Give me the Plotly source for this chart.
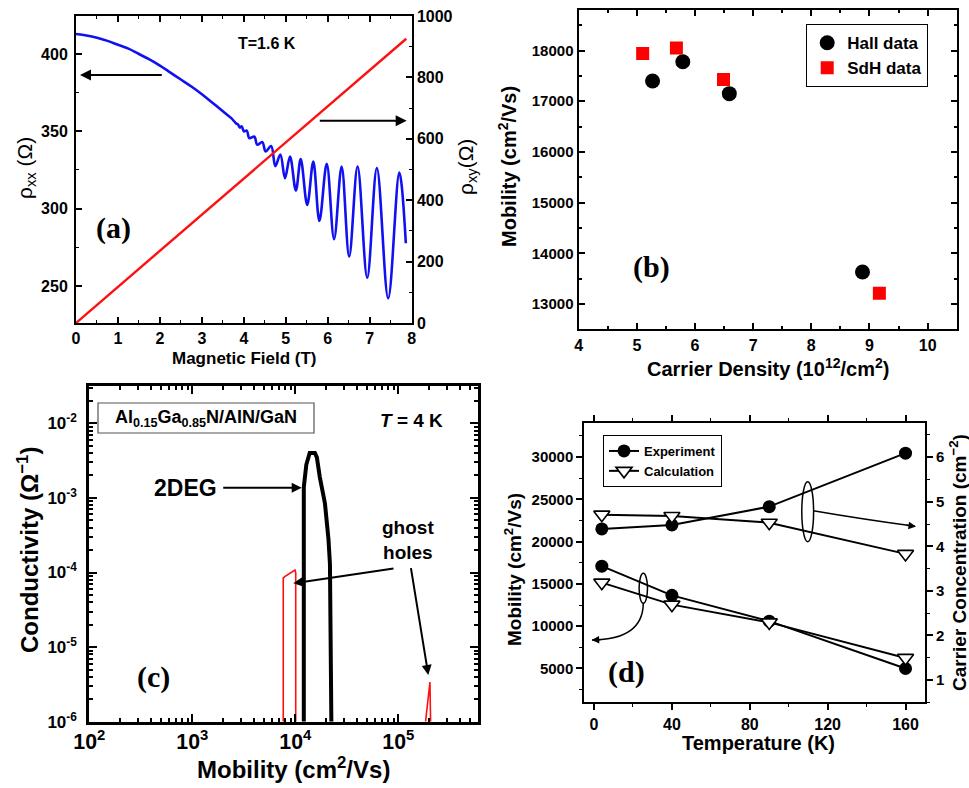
import plotly.graph_objects as go

W, H = 969, 788

# ---------------- data ----------------
# (a) magnetoresistance at T=1.6 K
field_xx = [0, 0.25, 0.5, 0.75, 1.0, 1.25, 1.5, 1.75, 2.0, 2.25, 2.5, 2.75, 3.0, 3.25, 3.5, 3.7,
            3.82, 3.86, 3.90, 3.95, 4.00, 4.07, 4.13, 4.25, 4.32, 4.44, 4.52, 4.65, 4.75, 4.87,
            4.98, 5.10, 5.24, 5.355, 5.51, 5.655, 5.80, 5.975, 6.15, 6.33, 6.51, 6.71, 6.94,
            7.17, 7.44, 7.705, 7.86]
rho_xx = [413, 412, 410.5, 408.5, 406, 403.5, 400, 396.5, 392.5, 388, 383.5, 379, 374, 368.5, 363, 358.5,
          355, 354.5, 352.5, 353.2, 350.0, 350.5, 345.6, 346.5, 341.3, 343, 336.9, 340.5, 327.5, 335,
          319.7, 333.7, 311.7, 332, 302.4, 330.4, 292, 329, 280.2, 327.2, 269, 327.2, 255.3,
          326.2, 242, 323.3, 277.6]
field_xy = [0, 1, 2, 3, 4, 5, 6, 7, 7.87]
rho_xy = [0, 118, 236, 354, 472, 590, 708, 826, 926]

# (b) mobility vs carrier density
hall_n = [5.27, 5.79, 6.59, 8.88]
hall_mu = [17400, 17780, 17150, 13630]
sdh_n = [5.10, 5.68, 6.49, 9.17]
sdh_mu = [17940, 18050, 17430, 13210]

# (c) mobility spectrum
deg_mu = [1.21e4, 1.21e4, 1.28e4, 1.38e4, 1.55e4, 1.62e4, 1.73e4, 1.94e4, 2.1e4, 2.17e4, 2.24e4]
deg_sigma = [1e-6, 1.4e-3, 2.8e-3, 4.0e-3, 4.0e-3, 3.5e-3, 1.9e-3, 8.5e-4, 2.8e-4, 1.3e-4, 1e-6]
hole1_mu = [7.64e3, 7.64e3, 7.9e3, 9.93e3, 1.01e4, 1.01e4]
hole1_sigma = [1e-6, 8.4e-5, 8.8e-5, 1.08e-4, 1.0e-4, 1e-6]
hole2_mu = [1.84e5, 2.03e5, 2.06e5]
hole2_sigma = [1e-6, 3.4e-6, 1e-6]
c_ytick_vals = [1e-6, 1e-5, 1e-4, 1e-3, 1e-2]
c_ytick_text = ["10<sup>-6</sup>", "10<sup>-5</sup>", "10<sup>-4</sup>", "10<sup>-3</sup>", "10<sup>-2</sup>"]

# (d) temperature dependence
temps = [4, 40, 90, 160]
mu_exp = [17100, 13650, 10600, 5000]
mu_calc = [15150, 12550, 10450, 6250]
n_exp = [4.39, 4.48, 4.89, 6.09]
n_calc = [4.71, 4.68, 4.53, 3.83]

# ---------------- helpers ----------------
FONT = "Liberation Sans"
SERIF = "Liberation Serif"


def PX(x):
    return x / W


def PY(y):
    return 1 - y / H


def bfont(size, color="black"):
    return dict(family=FONT, size=size, color=color, weight="bold")


fig = go.Figure()

# (a)
fig.add_trace(go.Scatter(x=field_xx, y=rho_xx, mode="lines", line=dict(color="#1010f0", width=2.6, shape="spline", smoothing=1.0),
                         xaxis="x", yaxis="y", showlegend=False))
fig.add_trace(go.Scatter(x=field_xy, y=rho_xy, mode="lines", line=dict(color="#ff1010", width=2.4),
                         xaxis="x", yaxis="y2", showlegend=False))
# (b)
fig.add_trace(go.Scatter(x=hall_n, y=hall_mu, mode="markers", name="Hall data",
                         marker=dict(symbol="circle", size=15, color="black"),
                         xaxis="x2", yaxis="y3", legend="legend"))
fig.add_trace(go.Scatter(x=sdh_n, y=sdh_mu, mode="markers", name="SdH data",
                         marker=dict(symbol="square", size=13, color="#ff0000"),
                         xaxis="x2", yaxis="y3", legend="legend"))
# (c)
fig.add_trace(go.Scatter(x=hole1_mu, y=hole1_sigma, mode="lines", line=dict(color="#ff1010", width=1.6),
                         xaxis="x3", yaxis="y4", showlegend=False))
fig.add_trace(go.Scatter(x=hole2_mu, y=hole2_sigma, mode="lines", line=dict(color="#ff1010", width=1.6),
                         xaxis="x3", yaxis="y4", showlegend=False))
fig.add_trace(go.Scatter(x=deg_mu, y=deg_sigma, mode="lines", line=dict(color="black", width=4),
                         xaxis="x3", yaxis="y4", showlegend=False))
# (d)
circ = dict(symbol="circle", size=13, color="black")
tri = dict(symbol="triangle-down", size=14, color="white", line=dict(color="black", width=1.6))
fig.add_trace(go.Scatter(x=temps, y=mu_exp, mode="lines+markers", name="Experiment", line=dict(color="black", width=2),
                         marker=circ, xaxis="x4", yaxis="y5", legend="legend2"))
fig.add_trace(go.Scatter(x=temps, y=mu_calc, mode="lines+markers", name="Calculation", line=dict(color="black", width=2),
                         marker=tri, xaxis="x4", yaxis="y5", legend="legend2"))
fig.add_trace(go.Scatter(x=temps, y=n_exp, mode="lines+markers", name="Experiment", line=dict(color="black", width=2),
                         marker=circ, xaxis="x4", yaxis="y6", showlegend=False))
fig.add_trace(go.Scatter(x=temps, y=n_calc, mode="lines+markers", name="Calculation", line=dict(color="black", width=2),
                         marker=tri, xaxis="x4", yaxis="y6", showlegend=False))


def ax(domain, rng, dtick, minor_dtick, ticks="inside", lw=2, size=15, mirror="ticks", tlen=6, mlen=3, **kw):
    d = dict(domain=domain, range=rng, dtick=dtick, ticks=ticks, ticklen=tlen, tickwidth=lw * 0.8,
             tickcolor="black", showline=True, linecolor="black", linewidth=lw, mirror=mirror,
             showgrid=False, zeroline=False, tickfont=bfont(size), fixedrange=True, automargin=False,
             tickformat="d",
             minor=dict(dtick=minor_dtick, ticks=ticks, ticklen=mlen, tickwidth=lw * 0.7, tickcolor="black", showgrid=False))
    d.update(kw)
    return d


def logax(domain, rng, anchor, **kw):
    d = dict(domain=domain, type="log", range=rng, dtick=1, exponentformat="power",
             ticks="inside", ticklen=8, tickwidth=2, tickcolor="black", showline=True, linecolor="black",
             linewidth=3, mirror="ticks", showgrid=False, zeroline=False, tickfont=bfont(17), anchor=anchor,
             fixedrange=True, automargin=False,
             minor=dict(ticks="inside", ticklen=4, tickwidth=1.5, tickcolor="black", showgrid=False))
    d.update(kw)
    return d


c_minor = [m * 10.0 ** e for e in range(-6, -1) for m in range(2, 10)]

layout = dict(
    template="none",
    width=W, height=H, margin=dict(l=0, r=0, t=0, b=0, autoexpand=False),
    paper_bgcolor="white", plot_bgcolor="white",
    font=dict(family=FONT, color="black"),
    xaxis=ax([PX(76), PX(411.7)], [0, 8], 1, 0.5, anchor="y", tick0=0, size=16),
    yaxis=ax([PY(323), PY(16)], [226, 424.6], 50, 25, anchor="x", mirror=False, tick0=0, size=16, ticklabelstandoff=3),
    yaxis2=ax([PY(323), PY(16)], [0, 1000], 200, 100, anchor="x", overlaying="y", side="right", mirror=False,
              tick0=0, size=16),
    xaxis2=ax([PX(578.7), PX(956.7)], [4, 10.5], 1, 0.5, anchor="y3", tick0=0, lw=2.4, size=16),
    yaxis3=ax([PY(329.3), PY(10)], [12500, 18800], 1000, 500, anchor="x2", tick0=0, lw=2.4, size=15),
    xaxis3=logax([PX(89.3), PX(478.3)], [2, 5.777], "y4"),
    yaxis4=logax([PY(721.7), PY(386)], [-6, -1.5], "x3", ticklabelstandoff=6,
                 tickmode="array", tickvals=c_ytick_vals, ticktext=c_ytick_text,
                 minor=dict(tickmode="array", tickvals=c_minor, ticks="inside", ticklen=4, tickwidth=1.5,
                            tickcolor="black", showgrid=False)),
    xaxis4=ax([PX(584.3), PX(925)], [-5, 170], 40, 20, ticks="outside", anchor="y5", tick0=0, size=16),
    yaxis5=ax([PY(702.3), PY(423.3)], [1000, 34000], 5000, 2500, ticks="outside", anchor="x4", mirror=False,
              tick0=0, size=15),
    yaxis6=ax([PY(702.3), PY(423.3)], [0.5, 6.76], 1, 0.5, ticks="outside", anchor="x4", overlaying="y5",
              side="right", mirror=False, tick0=0, size=15),
    legend=dict(x=PX(806), y=PY(24), xanchor="left", yanchor="top", bgcolor="white", bordercolor="black",
                borderwidth=1.2, font=bfont(17), itemsizing="trace", tracegroupgap=0),
    legend2=dict(x=PX(603), y=PY(435), xanchor="left", yanchor="top", bgcolor="white", bordercolor="black",
                 borderwidth=1, font=bfont(13), itemsizing="trace", tracegroupgap=0),
)
fig.update_layout(**layout)

ann = []


def text(x, y, s, size, angle=0, family=FONT, weight="bold"):
    ann.append(dict(x=PX(x), y=PY(y), xref="paper", yref="paper", text=s, showarrow=False,
                    xanchor="center", yanchor="middle", textangle=angle,
                    font=dict(family=family, size=size, color="black", weight=weight)))


def arrow(x0, y0, x1, y1, width=2, head=2, size=1.0):
    # tail (x0,y0) -> head (x1,y1) in pixels
    ann.append(dict(x=PX(x1), y=PY(y1), xref="paper", yref="paper", text="", showarrow=True,
                    ax=x0 - x1, ay=y0 - y1, axref="pixel", ayref="pixel",
                    arrowhead=head, arrowsize=size, arrowwidth=width, arrowcolor="black"))


# axis titles
text(244, 358, "Magnetic Field (T)", 17)
text(26, 168, "ρ<sub>xx</sub> (Ω)", 21, -90, weight="normal")
text(467, 167, "ρ<sub>xy</sub>(Ω)", 21, -90, weight="normal")
text(768, 367, "Carrier Density (10<sup>12</sup>/cm<sup>2</sup>)", 20)
text(508, 167, "Mobility (cm<sup>2</sup>/Vs)", 20, -90)
text(293, 768, "Mobility (cm<sup>2</sup>/Vs)", 24)
text(28, 550, "Conductivity (Ω<sup>−1</sup>)", 24, -90)
text(758, 743, "Temperature (K)", 20)
text(513, 570, "Mobility (cm<sup>2</sup>/Vs)", 19, -90)
text(958, 563, "Carrier Concentration (cm<sup>−2</sup>)", 19, -90)

# panel labels
text(113.3, 228.3, "(a)", 30, family=SERIF)
text(651.7, 266.7, "(b)", 30, family=SERIF)
text(153.3, 676.7, "(c)", 30, family=SERIF)
text(626.7, 671.7, "(d)", 30, family=SERIF)

# (a) notes
text(266.7, 43.3, "T=1.6 K", 16)
arrow(163.3, 75, 80, 75, width=2, head=2, size=1.1)
arrow(318.3, 120.7, 406.7, 120.7, width=2, head=2, size=1.1)

# (c) notes
text(206, 418, "Al<sub>0.15</sub>Ga<sub>0.85</sub>N/AlN/GaN", 18)
text(411.7, 420.7, "<i>T</i> = 4 K", 19)
text(185, 488.3, "2DEG", 23)
arrow(221.7, 487.7, 301.7, 487.7, width=2, head=2, size=1.0)
text(408.3, 539.7, "ghost<br>holes", 19)
arrow(395, 568.3, 293.3, 583.3, width=2, head=2, size=1.0)
arrow(410.7, 566.7, 428.3, 675, width=2, head=2, size=1.0)

# (d) arrowheads of curved pointers
arrow(905, 525, 916, 526.5, width=1.5, head=2, size=1.0)
arrow(602, 639.6, 591.7, 640, width=1.5, head=2, size=1.0)

fig.update_layout(annotations=ann)


def P(x, y):
    return f"{PX(x):.5f},{PY(y):.5f}"


shapes = [
    # box around layer structure
    dict(type="rect", xref="paper", yref="paper", x0=PX(98), x1=PX(314), y0=PY(433), y1=PY(403),
         line=dict(color="#555", width=1.2), fillcolor="rgba(0,0,0,0)"),
    # ellipses in (d)
    dict(type="circle", xref="paper", yref="paper", x0=PX(807.7 - 5.9), x1=PX(807.7 + 5.9),
         y0=PY(511.7 + 30), y1=PY(511.7 - 30), line=dict(color="black", width=1.5)),
    dict(type="circle", xref="paper", yref="paper", x0=PX(643.3 - 4.2), x1=PX(643.3 + 4.2),
         y0=PY(588.3 + 15), y1=PY(588.3 - 15), line=dict(color="black", width=1.5)),
    # curved pointers in (d)
    dict(type="path", xref="paper", yref="paper",
         path=f"M {P(813.3, 510.7)} Q {P(862.6, 519.2)} {P(915, 526.2)}", line=dict(color="black", width=1.5)),
    dict(type="path", xref="paper", yref="paper",
         path=f"M {P(643.3, 603.3)} C {P(643.0, 630)} {P(621.6, 639.8)} {P(592, 640)}", line=dict(color="black", width=1.5)),
]
fig.update_layout(shapes=shapes)

fig.write_html("out.html", config={"displayModeBar": False},
               post_script="document.body.style.margin='0';document.body.style.overflow='hidden';")
